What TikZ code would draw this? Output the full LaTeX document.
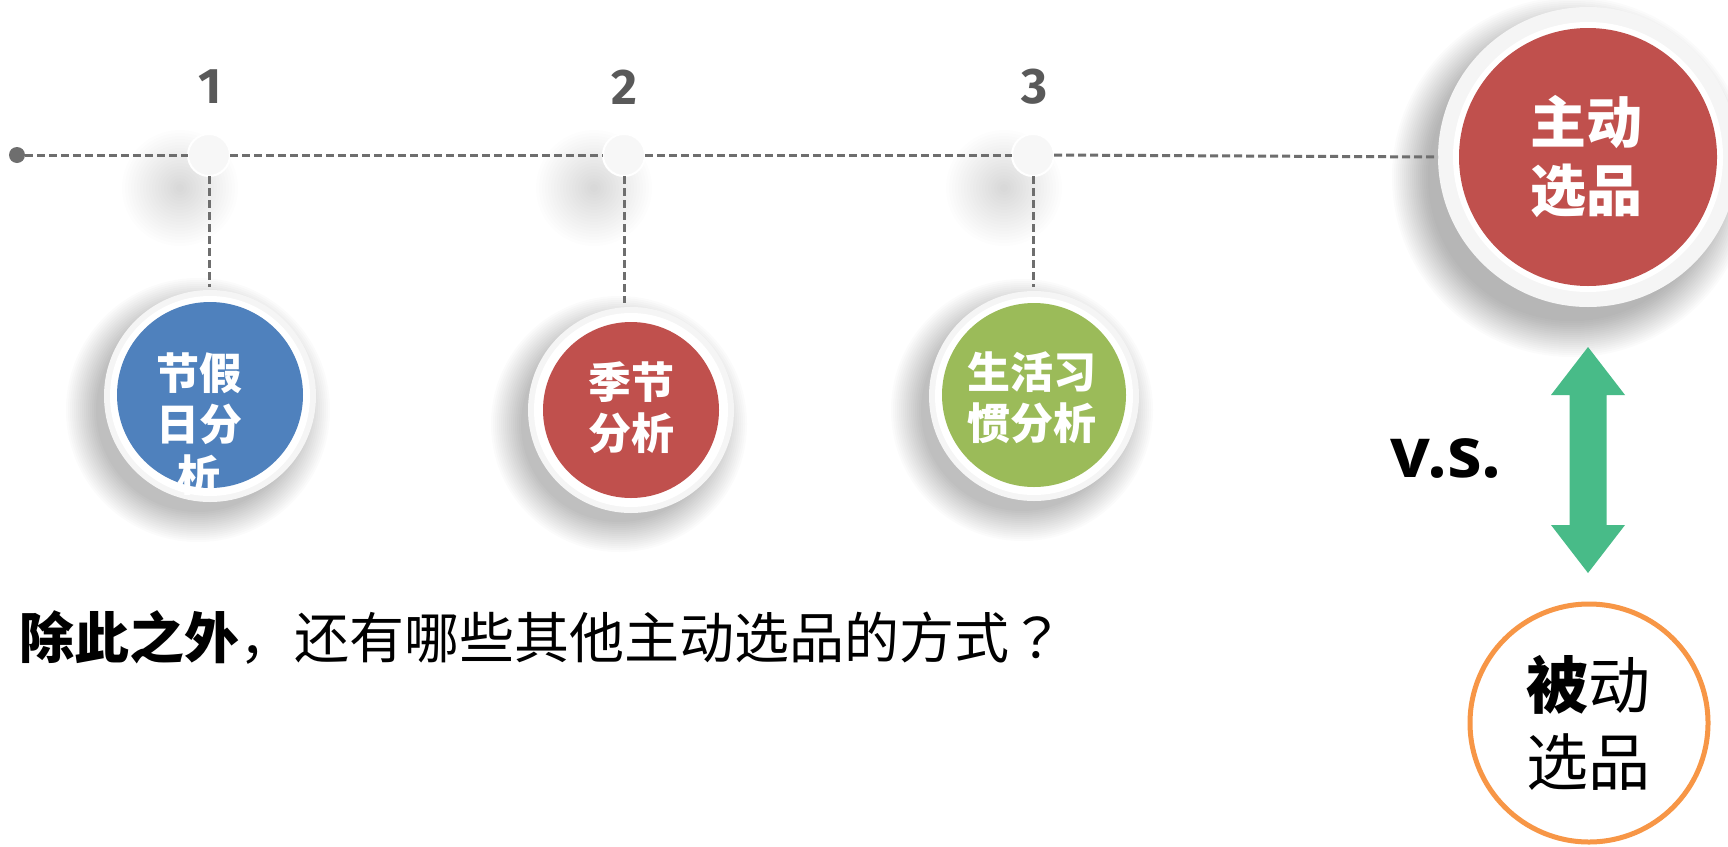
\documentclass[tikz,border=0pt]{standalone}
\usepackage{fontspec}
\setmainfont{Open Sans}
\newfontfamily\cjk{Noto Sans CJK SC}
\newfontfamily\cjkjp{Noto Sans CJK JP}
\newfontfamily\numfont{Fira Sans}
\definecolor{cblue}{HTML}{4F81BD}
\definecolor{cred}{HTML}{C0504D}
\definecolor{cgreen}{HTML}{9BBB59}
\definecolor{corange}{HTML}{F79646}
\definecolor{carrow}{HTML}{48BB88}
\definecolor{numgray}{HTML}{595959}
\definecolor{linegray}{HTML}{6E6E6E}
\definecolor{ringgray}{HTML}{F5F5F5}
\definecolor{dotgray}{HTML}{F7F7F7}
% soft shadow: centre x, centre y, outer radius, opacity per layer, number of layers, step
\newcommand{\softshade}[6]{\foreach \ii in {0,...,#5}{\fill[black, opacity=#4] (#1,#2) circle ({#3-#6*\ii});}}
\begin{document}
\begin{tikzpicture}[x=1pt,y=-1pt,
  tl/.style={draw=linegray, line width=3pt, dash pattern=on 8pt off 4pt},
  bigring/.style={circle, fill=ringgray, inner sep=0pt, outer sep=0pt},
  whiteband/.style={circle, fill=white, inner sep=0pt, outer sep=0pt},
  disc/.style={circle, inner sep=0pt, outer sep=0pt},
  smalldot/.style={circle, fill=dotgray, draw=white, line width=2pt, minimum size=42pt, inner sep=0pt, outer sep=0pt},
  num/.style={text=numgray, font=\numfont\bfseries\fontsize{50}{60}\selectfont},
  wtxt/.style={text=white, align=center, inner sep=0pt},
]
\useasboundingbox (0,0) rectangle (1728,846);
\fill[white] (0,0) rectangle (1728,846);

% soft shadows
\softshade{180}{188}{58}{0.009}{18}{3}
\softshade{594}{188}{58}{0.009}{18}{3}
\softshade{1004}{188}{58}{0.009}{18}{3}
\softshade{198}{410}{132}{0.016}{15}{2}
\softshade{619}{424}{128}{0.016}{15}{2}
\softshade{1022}{410}{131}{0.016}{15}{2}
\softshade{1572}{177}{180}{0.015}{18}{2}

% rings of the big circles
\node[bigring, minimum size=212pt] (r1) at (210,396) {};
\node[bigring, minimum size=206pt] (r2) at (631,410) {};
\node[bigring, minimum size=210pt] (r3) at (1034,396) {};
\node[bigring, minimum size=300pt] (r4) at (1588,157) {};

\node[whiteband, minimum size=200pt] at (210,396) {};
\node[whiteband, minimum size=194pt] at (631,410) {};
\node[whiteband, minimum size=198pt] at (1034,396) {};
\node[whiteband, minimum size=270pt] at (1588,157) {};

\node[disc, fill=cblue, minimum size=186pt] (c1) at (210,395) {};
\node[disc, fill=cred, minimum size=176pt] (c2) at (631,410) {};
\node[disc, fill=cgreen, minimum size=184pt] (c3) at (1034,395) {};
\node[disc, fill=cred, minimum size=258pt] (c4) at (1588,157) {};

% timeline
\node[circle, fill=linegray, minimum size=16pt, inner sep=0pt] (dot) at (17,155) {};
\node[smalldot] (s1) at (209,155) {};
\node[smalldot] (s2) at (624,155) {};
\node[smalldot] (s3) at (1033,155) {};
\draw[tl] (dot.east) -- (s1.west);
\draw[tl] (s1.east) -- (s2.west);
\draw[tl] (s2.east) -- (s3.west);
\draw[tl] (s3.east) -- (r4.west);
\draw[tl] (s1.south) -- (209,287);
\draw[tl] (s2.south) -- (624,303);
\draw[tl] (s3.south) -- (1033,287);

% numbers
\node[num] (n1) at (210,87) {1};
\node[num] (n2) at (624,87) {2};
\node[num] (n3) at (1034,87) {3};

% circle texts
\node[wtxt, font=\cjk\bfseries\fontsize{43}{51}\selectfont] (t1) at (199,424) {节假\\日分\\析};
\node[wtxt, font=\cjk\bfseries\fontsize{43}{51}\selectfont] (t2) at (631,408) {季节\\分析};
\node[wtxt, font=\cjk\bfseries\fontsize{43}{51}\selectfont] (t3) at (1032,398) {生活习\\惯分析};
\node[wtxt, font=\cjk\bfseries\fontsize{56}{68}\selectfont] (t4) at (1586,157) {主动\\选品};

% v.s. and double arrow
\node[font=\bfseries\fontsize{70}{80}\selectfont, inner sep=0pt] (vs) at (1446,458) {v.s.};
\coordinate (at) at (1588,347);
\coordinate (ab) at (1588,573);
\fill[carrow] (at) -- (1625,395) -- (1606.5,395) -- (1606.5,525) -- (1625,525) -- (ab)
  -- (1551,525) -- (1569.5,525) -- (1569.5,395) -- (1551,395) -- cycle;

% passive selection circle
\node[circle, draw=corange, line width=5pt, minimum size=238pt, inner sep=0pt] (pc) at (1589,723) {};
\node[align=center, inner sep=0pt, font=\cjk\fontsize{62}{77}\selectfont] (pt) at (1588,723) {\textbf{被}动\\选品};

% question
\node[anchor=west, inner sep=0pt, font=\cjk\fontsize{55}{66}\selectfont] (q) at (19,637) {\textbf{除此之外}，还有哪些其他主动选品的方式{\cjkjp ？}};
\end{tikzpicture}
\end{document}
